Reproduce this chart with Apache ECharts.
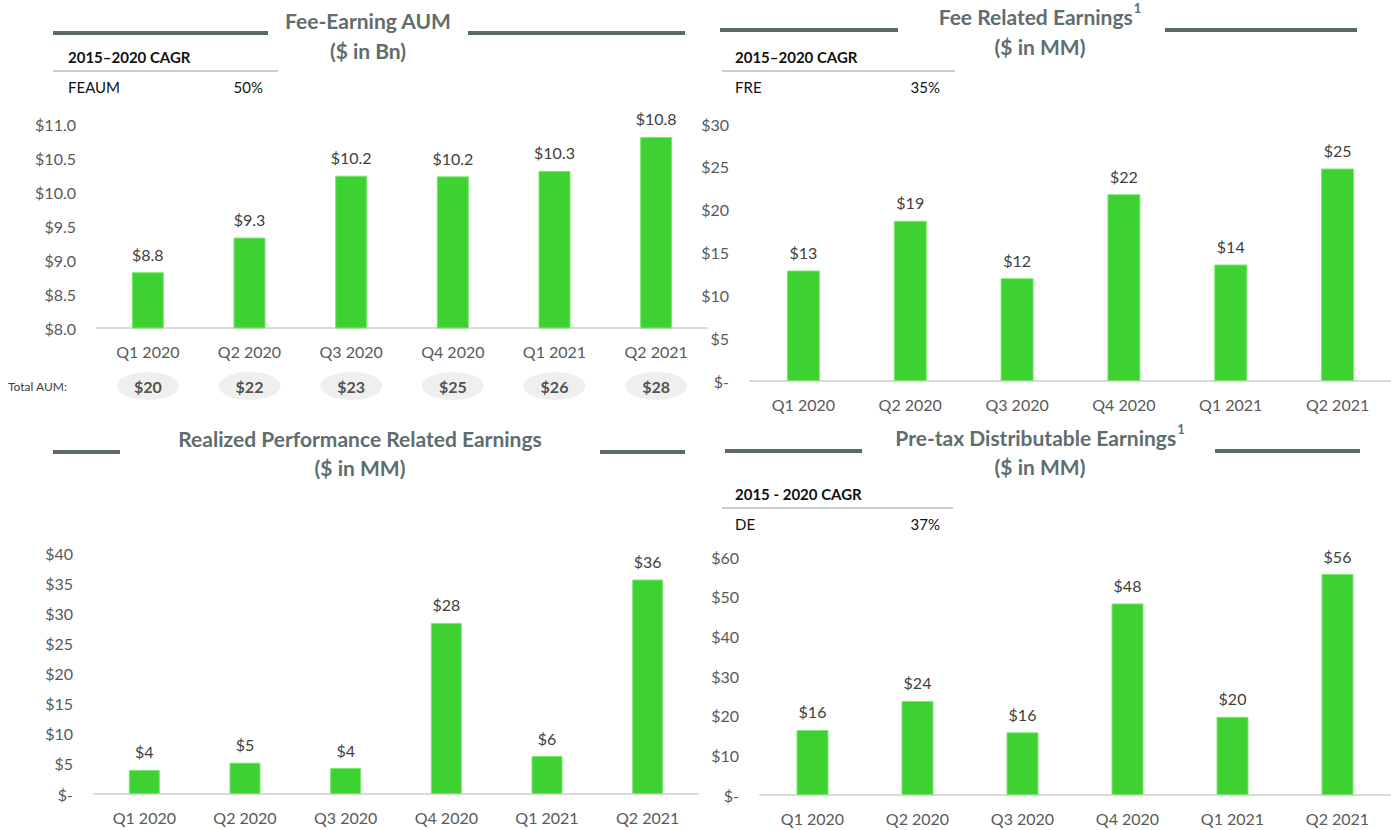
<!DOCTYPE html>
<html>
<head>
<meta charset="utf-8">
<title>Quarterly Results</title>
<script src="https://cdn.jsdelivr.net/npm/echarts@6/dist/echarts.min.js"></script>
<style>
  html, body { margin: 0; padding: 0; background: #ffffff; }
  #chart { width: 1391px; height: 830px; }
</style>
</head>
<body>
<div id="chart"></div>
<script>
// Quarter categories shared by all four panels
const categories = ['Q1 2020', 'Q2 2020', 'Q3 2020', 'Q4 2020', 'Q1 2021', 'Q2 2021'];

// Fee-earning AUM ($ in Bn) and total AUM ($ in Bn)
const feaum = [8.82, 9.33, 10.24, 10.23, 10.31, 10.81];
const totalAum = [20, 22, 23, 25, 26, 28];

// Fee related earnings ($ in MM)
const fre = [12.9, 18.7, 12.0, 21.8, 13.6, 24.8];

// Realized performance related earnings ($ in MM)
const rpre = [4.0, 5.2, 4.3, 28.4, 6.3, 35.6];

// Pre-tax distributable earnings ($ in MM)
const de = [16.4, 23.7, 15.8, 48.3, 19.7, 55.7];

// Y tick ranges per panel
const feaumTicks = { min: 8, max: 11, interval: 0.5 };
const freTicks = { min: 0, max: 30, interval: 5 };
const rpreTicks = { min: 0, max: 40, interval: 5 };
const deTicks = { min: 0, max: 60, interval: 10 };

// CAGR tables
const cagrRows = [
  { head: '2015\u20132020 CAGR', name: 'FEAUM', value: '50%' },
  { head: '2015\u20132020 CAGR', name: 'FRE', value: '35%' },
  { head: '2015 - 2020 CAGR', name: 'DE', value: '37%' }
];

const FONT = 'Lato, "Open Sans", sans-serif';
const GREEN = '#3dd232';
const AXIS_TXT = '#595959';
const VAL_TXT = '#404040';
const TITLE_TXT = '#5f6d6f';
const RULE = '#5c6a6c';

const grids = [
  { left: 97, top: 124, width: 610, height: 204 },
  { left: 750, top: 124, width: 641, height: 257 },
  { left: 94, top: 553, width: 604, height: 241 },
  { left: 760, top: 557, width: 630, height: 238 },
  { left: 97, top: 372, width: 610, height: 28 }
];

function xAxisFor(i) {
  return {
    type: 'category', gridIndex: i, data: categories,
    axisLine: { lineStyle: { color: '#d9d9d9', width: 2 } },
    axisTick: { show: false },
    axisLabel: { color: AXIS_TXT, fontSize: 16, fontFamily: FONT, margin: 15 }
  };
}
function yAxisFor(i, t, fmt) {
  return {
    type: 'value', gridIndex: i, min: t.min, max: t.max, interval: t.interval,
    axisLine: { show: false }, axisTick: { show: false }, splitLine: { show: false },
    axisLabel: { color: AXIS_TXT, fontSize: 16, fontFamily: FONT, margin: 21, formatter: fmt }
  };
}
const dollarInt = v => (v === 0 ? '$-' : '$' + v);
const dollarDec = v => '$' + v.toFixed(1);

function barSeries(i, data, width, fmt) {
  return {
    type: 'bar', xAxisIndex: i, yAxisIndex: i, data: data, barWidth: width,
    itemStyle: { color: GREEN, borderColor: '#7be672', borderWidth: 1 },
    label: {
      show: true, position: 'top', distance: 10, color: VAL_TXT,
      fontSize: 16, fontFamily: FONT, formatter: p => fmt(p.value)
    },
    silent: true
  };
}

function txt(x, y, text, opts) {
  opts = opts || {};
  const style = {
    text: text,
    fill: opts.fill || '#000',
    font: opts.font || ('15px ' + FONT),
    align: opts.align || 'left', textAlign: opts.align || 'left',
    verticalAlign: 'middle', textVerticalAlign: 'middle'
  };
  if (opts.rich) style.rich = opts.rich;
  return { type: 'text', x: x, y: y, silent: true, style: style };
}
function rule(x1, x2, y, color, w) {
  return {
    type: 'line', silent: true,
    shape: { x1: x1, y1: y, x2: x2, y2: y },
    style: { stroke: color, lineWidth: w }
  };
}
// Title text with an optional footnote marker drawn as a raised superscript
const titleRich = {
  t: { fontSize: 21, fontWeight: 'bold', fontFamily: FONT, color: TITLE_TXT, verticalAlign: 'bottom', lineHeight: 26 },
  sup: { fontSize: 13, fontWeight: 'bold', fontFamily: FONT, color: TITLE_TXT, verticalAlign: 'top', lineHeight: 26, padding: [0, 0, 10, 1] }
};
function header(cx, y1, y2, lineY, title, note, sub, l1, l2, r1, r2) {
  const f = 'bold 21px ' + FONT;
  const main = note ? '{t|' + title + '}{sup|' + note + '}' : title;
  return [
    txt(cx, note ? y1 - 3 : y1, main, { align: 'center', font: f, fill: TITLE_TXT, rich: titleRich }),
    txt(cx, y2, sub, { align: 'center', font: f, fill: TITLE_TXT }),
    rule(l1, l2, lineY, RULE, 4),
    rule(r1, r2, lineY, RULE, 4)
  ];
}
function cagr(row, x, y, sepX1, sepX2, valRight) {
  return [
    txt(x, y, row.head, { font: 'bold 15px ' + FONT, fill: '#111' }),
    rule(sepX1, sepX2, y + 14, '#c9cdcd', 2),
    txt(x, y + 30, row.name, { font: '15px ' + FONT, fill: '#111' }),
    txt(valRight, y + 30, row.value, { align: 'right', font: '15px ' + FONT, fill: '#111' })
  ];
}

const graphics = [].concat(
  header(368, 20, 50, 33, 'Fee-Earning AUM', '', '($ in Bn)', 53, 268, 468, 685),
  header(1040, 17, 46, 30, 'Fee Related Earnings', '1', '($ in MM)', 720, 898, 1165, 1357),
  header(360, 438, 467, 452, 'Realized Performance Related Earnings', '', '($ in MM)', 53, 120, 600, 685),
  header(1040, 438, 466, 451, 'Pre-tax Distributable Earnings', '1', '($ in MM)', 725, 862, 1215, 1360),
  cagr(cagrRows[0], 68, 57, 53, 278, 263),
  cagr(cagrRows[1], 735, 57, 722, 955, 940),
  cagr(cagrRows[2], 735, 494, 722, 953, 940),
  [txt(8, 386, 'Total AUM:', { font: '12px ' + FONT, fill: '#404040' })]
);

const chart = echarts.init(document.getElementById('chart'), null, { renderer: 'svg' });
chart.setOption({
  animation: false,
  backgroundColor: '#ffffff',
  grid: grids,
  xAxis: [0, 1, 2, 3].map(xAxisFor).concat([{
    type: 'category', gridIndex: 4, data: categories, show: false
  }]),
  yAxis: [
    yAxisFor(0, feaumTicks, dollarDec),
    yAxisFor(1, freTicks, dollarInt),
    yAxisFor(2, rpreTicks, dollarInt),
    yAxisFor(3, deTicks, dollarInt),
    { type: 'value', gridIndex: 4, min: -1, max: 1, show: false }
  ],
  series: [
    barSeries(0, feaum, 32, dollarDec),
    barSeries(1, fre, 33, v => '$' + v.toFixed(0)),
    barSeries(2, rpre, 31, v => '$' + v.toFixed(0)),
    barSeries(3, de, 32, v => '$' + v.toFixed(0)),
    {
      type: 'scatter', xAxisIndex: 4, yAxisIndex: 4, silent: true,
      symbol: 'circle', symbolSize: [62, 28],
      itemStyle: { color: '#ebebeb' },
      data: totalAum.map((v, i) => ({ value: [i, 0], aum: v })),
      label: {
        show: true, position: 'inside', color: '#262626',
        fontSize: 16, fontWeight: 'bold', fontFamily: FONT,
        formatter: p => '$' + p.data.aum
      }
    }
  ],
  graphic: { elements: graphics }
});
</script>
</body>
</html>
